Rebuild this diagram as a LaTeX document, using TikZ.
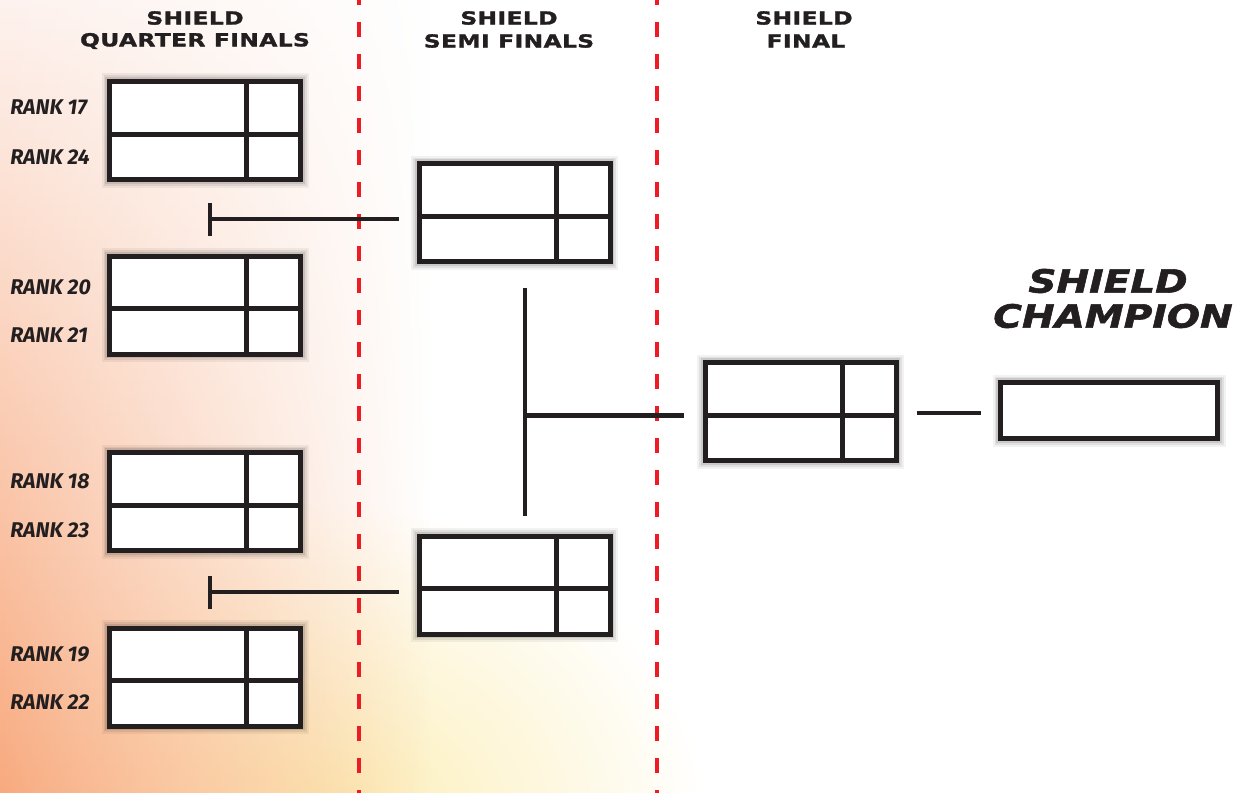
\documentclass[tikz,border=0pt]{standalone}
\usepackage{fontspec}
\usetikzlibrary{calc,fadings}
\newfontfamily\titlefont{DejaVu Sans}[FakeStretch=1.3,LetterSpace=2,FakeBold=1.6]
\newfontfamily\champfont{DejaVu Sans}[FakeStretch=1.22,FakeBold=1.8]
\newfontfamily\rankfont{Fira Sans}
\definecolor{ink}{HTML}{231F20}
\definecolor{dashred}{HTML}{ED1C24}
\definecolor{orgA}{HTML}{FDF2EE}
\definecolor{orgB}{HTML}{F4AE95}
\definecolor{orgC}{HTML}{F8AA7E}
\definecolor{yel}{HTML}{FCEDB2}
\tikzset{
  matchbox/.style={draw=ink, fill=white, line width=3.75pt, inner sep=0pt,
    minimum width=143.25pt, minimum height=73.5pt,
    preaction={draw=black, line width=12pt, opacity=0.05},
    preaction={draw=black, line width=9pt, opacity=0.07},
    preaction={draw=black, line width=6.5pt, opacity=0.1}},
  champbox/.style={matchbox, minimum width=162.75pt, minimum height=42pt},
  divline/.style={draw=ink, line width=3.75pt},
  conn/.style={draw=ink, line width=3.4pt},
  reddash/.style={draw=dashred, line width=2.3pt, dash pattern=on 11.5pt off 12.5pt},
  headtext/.style={text=ink, font=\titlefont\bfseries\fontsize{13.5pt}{15pt}\selectfont, inner sep=0pt},
  champtext/.style={text=ink, font=\champfont\bfseries\itshape\fontsize{24pt}{26pt}\selectfont, inner sep=0pt},
  ranktext/.style={text=ink, font=\rankfont\bfseries\itshape\fontsize{16pt}{18pt}\selectfont, inner sep=0pt, anchor=west}
}
\begin{document}
\begin{tikzpicture}[x=0.75pt, y=-0.75pt]
\useasboundingbox (0,0) rectangle (1245,792);
% background
\fill[white] (0,0) rectangle (1245,792);
\begin{scope}
\clip (0,0) rectangle (1245,792);
\shade[inner color=yel, outer color=white] (330,830) ellipse (380 and 330);
\shade[top color=orgA, middle color=orgB, bottom color=orgC, path fading=east] (0,0) rectangle (430,792);
\end{scope}
% red dashed separators
\draw[reddash] (359,-10) -- (359,800);
\draw[reddash] (657,-10) -- (657,800);
% headings
\node[headtext] (h1a) at (195,18) {SHIELD};
\node[headtext] (h1b) at (195,41) {QUARTER FINALS};
\node[headtext] (h2a) at (509,18) {SHIELD};
\node[headtext] (h2b) at (509,41) {SEMI FINALS};
\node[headtext] (h3a) at (804,18) {SHIELD};
\node[headtext] (h3b) at (806,41) {FINAL};
\node[champtext] (c1) at (1108,281) {SHIELD};
\node[champtext] (c2) at (1113,316) {CHAMPION};
% boxes
\node[matchbox] (q1) at (205,130.5) {};
\node[matchbox] (q2) at (205,305) {};
\node[matchbox] (q3) at (205,501.5) {};
\node[matchbox] (q4) at (205,677) {};
\node[matchbox] (s1) at (514.5,212.5) {};
\node[matchbox] (s2) at (514.5,585) {};
\node[matchbox] (f) at (800.5,411.5) {};
\node[champbox] (ch) at (1109,410.5) {};
\foreach \n in {q1,q2,q3,q4,s1,s2,f}{
  \draw[divline] ($(\n.north)+(41.5,0)$) -- ($(\n.south)+(41.5,0)$);
  \draw[divline] ($(\n.west)+(0,3.5)$) -- ($(\n.east)+(0,3.5)$);
}
% rank labels
\node[ranktext] (r17) at (10,107) {RANK 17};
\node[ranktext] (r24) at (10,157) {RANK 24};
\node[ranktext] (r20) at (10,287) {RANK 20};
\node[ranktext] (r21) at (10,335) {RANK 21};
\node[ranktext] (r18) at (10,481) {RANK 18};
\node[ranktext] (r23) at (10,530) {RANK 23};
\node[ranktext] (r19) at (10,654) {RANK 19};
\node[ranktext] (r22) at (10,702) {RANK 22};
% connectors
\coordinate (t1) at (210,219);
\coordinate (t2) at (210,592);
\draw[conn] ($(t1)+(0,-16)$) -- ($(t1)+(0,17)$);
\draw[conn] (t1) -- ($(t1 -| s1.west)+(-17.5,0)$);
\draw[conn] ($(t2)+(0,-16)$) -- ($(t2)+(0,17)$);
\draw[conn] (t2) -- ($(t2 -| s2.west)+(-17.5,0)$);
\draw[conn] ($(s1.south)+(10.5,23.5)$) -- ($(s2.north)+(10.5,-17.5)$);
\coordinate (j) at ($(s1.south)+(10.5,151.5)$);
\draw[conn] (j) -- ($(j -| f.west)+(-18.5,0)$);
\draw[conn] ($(f.east)+(18.5,1.5)$) -- ($(f.east -| ch.west)+(-17.5,1.5)$);
\end{tikzpicture}
\end{document}
